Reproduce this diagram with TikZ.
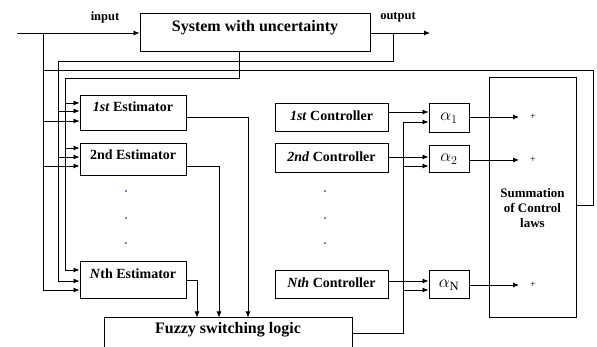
\documentclass[tikz,border=0pt]{standalone}
\usepackage{fontspec}
\setmainfont{Liberation Serif}
\usetikzlibrary{positioning, arrows.meta}

\tikzset{
  block/.style 2 args={draw, line width=1pt, minimum width=#1pt, minimum height=#2pt, inner sep=0pt},
  txt/.style={font=\fontsize{14}{16}\selectfont\bfseries, inner sep=0pt},
  big/.style={font=\fontsize{16}{19}\selectfont\bfseries, inner sep=0pt},
  sig/.style={font=\fontsize{12.5}{15}\selectfont\bfseries, inner sep=0pt},
  sumtext/.style={font=\fontsize{13}{15}\selectfont\bfseries, inner sep=0pt, align=center},
  weight/.style={font=\fontsize{18}{20}\selectfont},
  plus/.style={font=\fontsize{10}{12}\selectfont, inner sep=0pt},
  dotmark/.style={circle, fill=blue!50!black, inner sep=0pt, minimum size=1.6pt}
}

\begin{document}
\begin{tikzpicture}[x=1pt, y=-1pt, line width=0.8pt, >={Latex[length=6pt,width=5pt]}]
\useasboundingbox (0,0) rectangle (597,347);

% plant
\node [block={230}{38}] (sys) at (255,33) {};
\node [big] (systxt) at (255,28) {System with uncertainty};
\coordinate (in) at (17,33);
\coordinate (out) at (430,33);
\node [sig] (inlbl) at (105,17) {input};
\node [sig] (outlbl) at (398,17) {output};
\draw [->] (in) -- (sys.west |- in);
\draw [->] (sys.east |- out) -- (out);

% estimators
\node [block={106}{35}] (est1) at (133,113.5) {};
\node [txt] (est1txt) at (133,107) {\textit{1st} Estimator};
\node [block={106}{32}] (est2) at (133,160) {};
\node [txt] (est2txt) at (133,155) {2nd Estimator};
\node [block={106}{37}] (estN) at (133,280.5) {};
\node [txt] (estNtxt) at (133,274) {\textit{N}th Estimator};

% controllers
\node [block={113}{28}] (ctl1) at (331.5,118) {};
\node [txt] (ctl1txt) at (331.5,116) {\textit{1st} Controller};
\node [block={113}{29}] (ctl2) at (331.5,158.5) {};
\node [txt] (ctl2txt) at (331.5,156.5) {\textit{2nd} Controller};
\node [block={113}{28}] (ctlN) at (331.5,285) {};
\node [txt] (ctlNtxt) at (331.5,283) {\textit{Nth} Controller};

% weights
\node [block={40}{29}, weight] (a1) at (449,118.5) {$\alpha_1$};
\node [block={40}{27}, weight] (a2) at (449,159.5) {$\alpha_2$};
\node [block={40}{28}, weight] (aN) at (449,285) {$\alpha_{\mathrm{N}}$};

% summation and fuzzy logic
\node [block={87}{240}] (sum) at (532.5,198) {};
\node [sumtext] (sumtxt) at (532.5,208) {Summation\\of Control\\laws};
\node [block={248}{42}] (fuzzy) at (228,339) {};
\node [big] (fuzzytxt) at (228,330) {Fuzzy switching logic};

\node [plus] (p1) at (533,117) {+};
\node [plus] (p2) at (533,160) {+};
\node [plus] (pN) at (533,285) {+};

% dots
\foreach \yy in {191,218,243} {
  \node [dotmark] (ed\yy) at (126,\yy) {};
  \node [dotmark] (cd\yy) at (325,\yy) {};
}

% signals into the estimators
\draw [->] (43,33) |- (estN.west |- 0,290);
\draw [->] (393,33) |- (58,61) -- (58,281) -- (estN.west |- 0,281);
\draw [->] (sys.south -| 239,0) |- (65,78) -- (65,270) -- (estN.west |- 0,270);
\foreach \e/\ya/\yb/\yc in {est1/103/111/121, est2/148/157/166} {
  \draw [->] (65,\ya) -- (\e.west |- 0,\ya);
  \draw [->] (58,\yb) -- (\e.west |- 0,\yb);
  \draw [->] (43,\yc) -- (\e.west |- 0,\yc);
}
\draw (sum.east |- 0,205) -- (593,205) |- (43,70);

% estimators to fuzzy logic
\draw [->] (est1.east |- 0,117) -| (fuzzy.north -| 248,0);
\draw [->] (est2.east |- 0,166) -| (fuzzy.north -| 219,0);
\draw [->] (estN.east |- 0,280) -| (fuzzy.north -| 197,0);

% fuzzy logic to weights
\draw [->] (fuzzy.east |- 0,333) -| (403,122) -- (a1.west |- 0,122);
\draw [->] (403,166) -- (a2.west |- 0,166);
\draw [->] (403,290) -- (aN.west |- 0,290);

% controllers to weights
\draw [->] (ctl1.east |- 0,112) -- (a1.west |- 0,112);
\draw [->] (ctl2.east |- 0,157) -- (a2.west |- 0,157);
\draw [->] (ctlN.east |- 0,281) -- (aN.west |- 0,281);

% weights to summation
\draw [->] (a1.east |- p1) -- ([xshift=-14pt]p1.center);
\draw [->] (a2.east |- p2) -- ([xshift=-14pt]p2.center);
\draw [->] (aN.east |- pN) -- ([xshift=-14pt]pN.center);
\end{tikzpicture}
\end{document}
